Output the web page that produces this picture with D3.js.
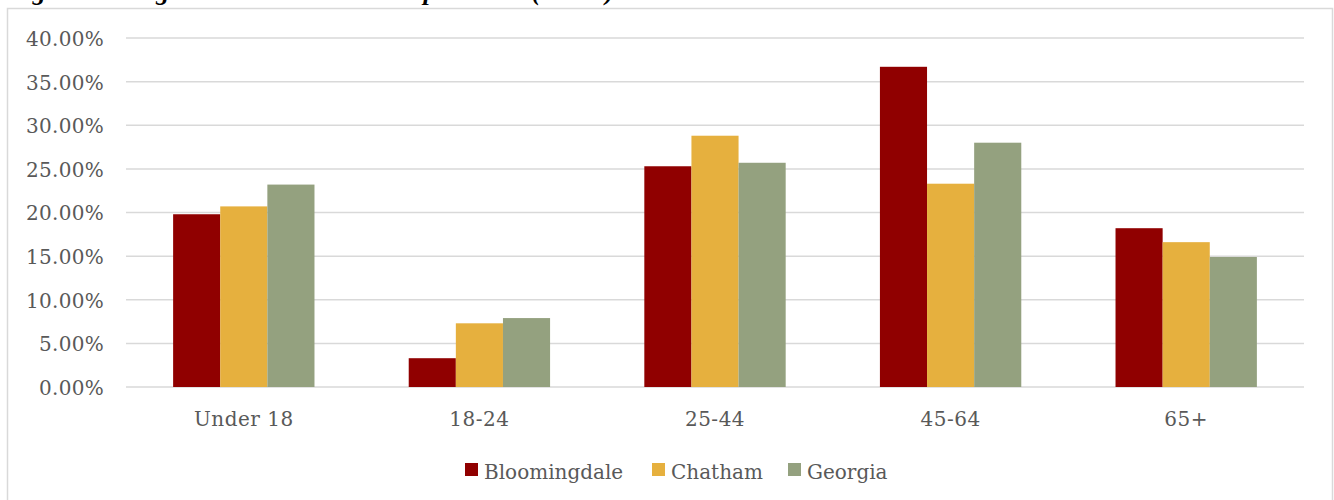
<!DOCTYPE html>
<html>
<head>
<meta charset="utf-8">
<script src="https://cdn.jsdelivr.net/npm/d3@7"></script>
<style>
  html, body { margin: 0; padding: 0; background: #ffffff; }
  svg { display: block; }
</style>
</head>
<body>
<svg id="chart" width="1334" height="500"></svg>
<script>
// Age group shares (percent of population)
const categories = ["Under 18", "18-24", "25-44", "45-64", "65+"];
const seriesNames = ["Bloomingdale", "Chatham", "Georgia"];
const bloomingdale = [19.8, 3.3, 25.3, 36.7, 18.2];
const chatham = [20.7, 7.3, 28.8, 23.3, 16.6];
const georgia = [23.2, 7.9, 25.7, 28.0, 14.9];
const yTicks = [0, 5, 10, 15, 20, 25, 30, 35, 40];
const titleText = "Figure 3: Age Distribution Comparison (2019)";

const seriesValues = [bloomingdale, chatham, georgia];
const colors = ["#900000", "#E6B03E", "#94A17F"];
const labelFont = "'DejaVu Serif', serif";

const svg = d3.select("#chart");

// Caption sitting above the chart frame
svg.append("text")
  .attr("x", 3).attr("y", 0)
  .attr("textLength", 611).attr("lengthAdjust", "spacing")
  .style("font-family", "'Liberation Serif', serif")
  .style("font-weight", "bold").style("font-style", "italic")
  .style("font-size", "26px").style("fill", "#000")
  .text(titleText);

// Chart frame
svg.append("rect")
  .attr("x", 7.5).attr("y", 8.5)
  .attr("width", 1325).attr("height", 520)
  .attr("fill", "#fff").attr("stroke", "#d9d9d9").attr("stroke-width", 1.5);

const plot = { left: 126, right: 1304, top: 38, bottom: 387 };

const x0 = d3.scaleBand().domain(categories)
  .range([plot.left, plot.right]).paddingInner(0).paddingOuter(0);
const groupWidth = x0.bandwidth() * 0.6;
const x1 = d3.scaleBand().domain(seriesNames)
  .range([(x0.bandwidth() - groupWidth) / 2, (x0.bandwidth() + groupWidth) / 2]);
const y = d3.scaleLinear().domain([0, 40]).range([plot.bottom, plot.top]);

// Horizontal gridlines
svg.append("g")
  .selectAll("line").data(yTicks).join("line")
  .attr("x1", plot.left).attr("x2", plot.right)
  .attr("y1", d => y(d)).attr("y2", d => y(d))
  .attr("stroke", "#d9d9d9").attr("stroke-width", 1.5);

// Y axis labels
const yAxis = d3.axisLeft(y).tickValues(yTicks)
  .tickFormat(d => d.toFixed(2) + "%").tickSize(0).tickPadding(0);
const yg = svg.append("g").attr("transform", `translate(${plot.left - 22},1)`).call(yAxis);
yg.select(".domain").remove();
yg.selectAll("text")
  .style("font-family", labelFont).style("font-size", "20px")
  .style("letter-spacing", "0.3px").attr("fill", "#595959");

// X axis labels
const xAxis = d3.axisBottom(x0).tickSize(0).tickPadding(0);
const xg = svg.append("g").attr("transform", `translate(0,${plot.bottom + 25})`).call(xAxis);
xg.select(".domain").remove();
xg.selectAll("text")
  .style("font-family", labelFont).style("font-size", "20px")
  .style("letter-spacing", "0.5px").attr("fill", "#595959");

// Bars
const groups = svg.append("g").selectAll("g").data(categories).join("g")
  .attr("transform", d => `translate(${x0(d)},0)`);
groups.selectAll("rect")
  .data((c, i) => seriesNames.map((s, k) => ({ series: s, k, value: seriesValues[k][i] })))
  .join("rect")
  .attr("x", d => x1(d.series))
  .attr("width", x1.bandwidth())
  .attr("y", d => y(d.value))
  .attr("height", d => y(0) - y(d.value))
  .attr("fill", d => colors[d.k]);

// Legend
const legendX = [465, 652, 788];
const legend = svg.append("g").selectAll("g").data(seriesNames).join("g")
  .attr("transform", (d, i) => `translate(${legendX[i]},463)`);
legend.append("rect").attr("width", 13).attr("height", 13)
  .attr("fill", (d, i) => colors[i]);
legend.append("text")
  .attr("x", 19).attr("y", 16)
  .style("font-family", labelFont).style("font-size", "20px")
  .attr("fill", "#595959")
  .text(d => d);
</script>
</body>
</html>
